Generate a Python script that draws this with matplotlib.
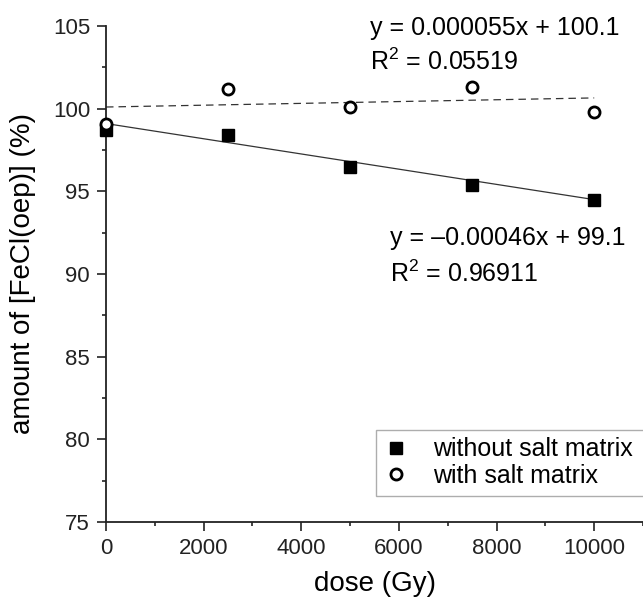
import matplotlib
matplotlib.use("Agg")
import matplotlib.pyplot as plt
import numpy as np
from matplotlib.ticker import MultipleLocator

# data
dose = [0, 2500, 5000, 7500, 10000]
without_salt = [98.7, 98.4, 96.5, 95.4, 94.5]
with_salt = [99.1, 101.2, 100.1, 101.3, 99.8]

# linear fits as printed on the chart
fit_without = (-0.00046, 99.1)
fit_with = (0.000055, 100.1)
fit_dose = [0, 10000]

eq_with = ["y = 0.000055x + 100.1", "R$^{2}$ = 0.05519"]
eq_without = ["y = \u20130.00046x + 99.1", "R$^{2}$ = 0.96911"]

plt.rcParams["font.family"] = ["Liberation Sans", "DejaVu Sans"]
plt.rcParams["mathtext.fontset"] = "custom"
plt.rcParams["mathtext.rm"] = "Liberation Sans"
plt.rcParams["mathtext.it"] = "Liberation Sans:italic"

fig = plt.figure(figsize=(6.43, 6.02), dpi=100)
# axes run off the right edge of the figure, like the cropped original
ax = fig.add_axes([106 / 643, 80 / 602, 537 / 643, 496 / 602])

fx = np.array(fit_dose)
ax.plot(fx, fit_without[0] * fx + fit_without[1], color="#333333", lw=0.9, zorder=2)
ax.plot(fx, fit_with[0] * fx + fit_with[1], color="#333333", lw=0.9,
        ls=(0, (6, 4)), zorder=2)

ax.plot(dose, without_salt, ls="none", marker="s", ms=8, color="black",
        label="without salt matrix", zorder=3, clip_on=False)
ax.plot(dose, with_salt, ls="none", marker="o", ms=8, mfc="white", mec="black",
        mew=2.0, label="with salt matrix", zorder=4, clip_on=False)

ax.set_xlim(0, 11000)
ax.set_ylim(75, 105)
ax.xaxis.set_major_locator(MultipleLocator(2000))
ax.xaxis.set_minor_locator(MultipleLocator(1000))
ax.yaxis.set_major_locator(MultipleLocator(5))
ax.yaxis.set_minor_locator(MultipleLocator(2.5))

for side in ["top", "right"]:
    ax.spines[side].set_visible(False)
for side in ["left", "bottom"]:
    ax.spines[side].set_linewidth(1.3)
    ax.spines[side].set_color("#222222")

ax.tick_params(which="major", direction="out", length=6.5, width=1.2,
               labelsize=16, pad=5, colors="#222222")
ax.tick_params(which="minor", direction="out", length=3.2, width=1.2,
               colors="#222222")

ax.set_xlabel("dose (Gy)", fontsize=20, labelpad=9)
ax.set_ylabel("amount of [FeCl(oep)] (%)", fontsize=20, labelpad=12)

fig.text(370 / 643, 1 - 35 / 602, eq_with[0], fontsize=18, va="baseline")
fig.text(370 / 643, 1 - 70 / 602, eq_with[1], fontsize=18, va="baseline")
fig.text(390 / 643, 1 - 245 / 602, eq_without[0], fontsize=18, va="baseline")
fig.text(390 / 643, 1 - 282 / 602, eq_without[1], fontsize=18, va="baseline")

# legend box is stretched past the right edge, so it looks cut off
leg_top = 1 - 430 / 602
leg = ax.legend(loc="upper left", bbox_to_anchor=(376 / 643, leg_top - 0.01, 0.5, 0.01),
                bbox_transform=fig.transFigure, mode="expand", fontsize=18,
                frameon=True, fancybox=False, borderpad=0.3, handlelength=1.0,
                handletextpad=0.98, labelspacing=0.1, borderaxespad=0)
leg.get_frame().set_edgecolor("#999999")
leg.get_frame().set_linewidth(1.0)

fig.savefig("out.png", dpi=100)
